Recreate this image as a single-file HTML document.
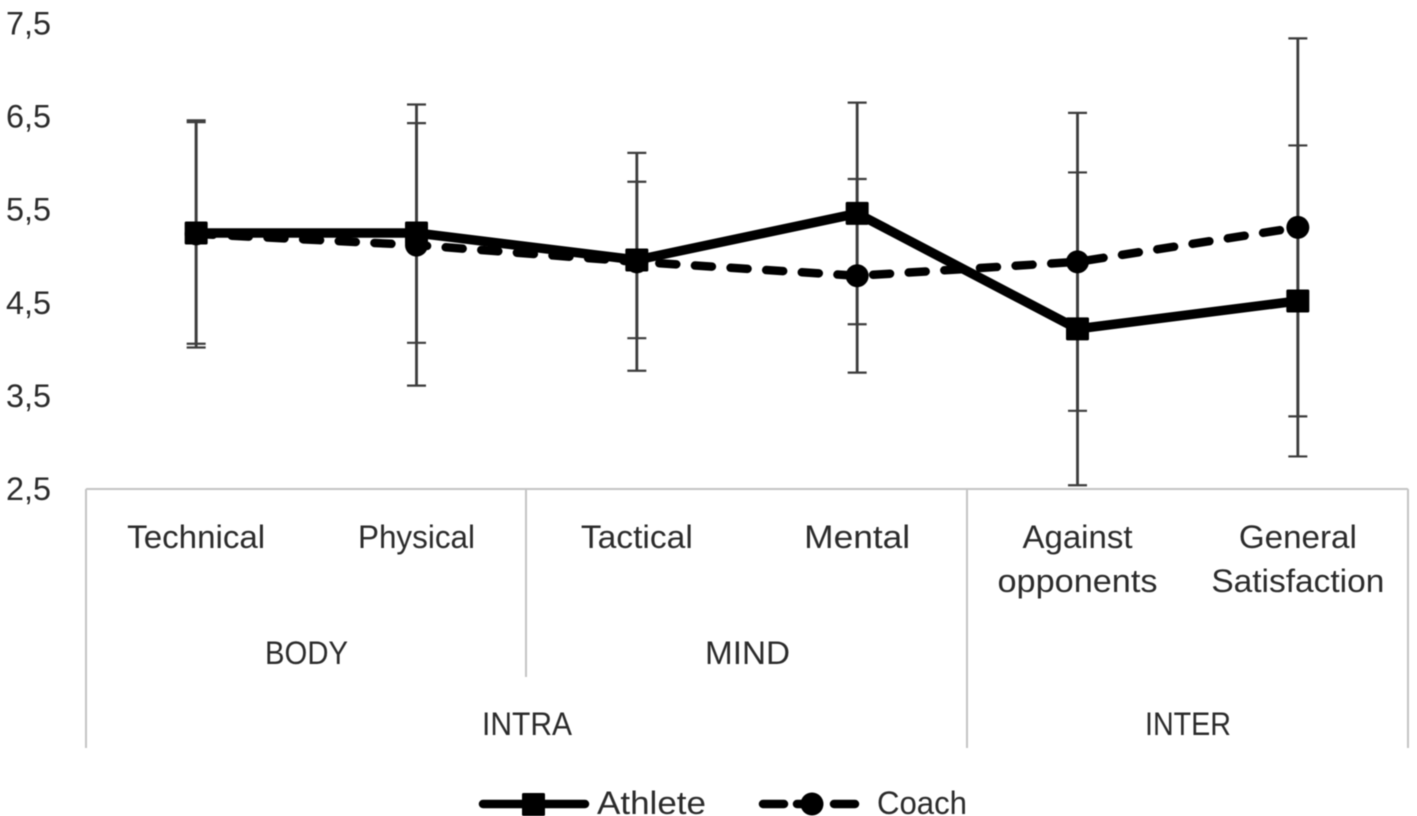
<!DOCTYPE html>
<html lang="en">
<head>
<meta charset="utf-8">
<title>Athlete and Coach ratings</title>
<style>
html,body{margin:0;padding:0;background:#fff;width:1417px;height:816px;overflow:hidden}
svg{display:block;filter:blur(.45px)}
text{font-family:"Liberation Sans",sans-serif;font-size:32.5px;fill:#2b2b2b}
</style>
</head>
<body>
<svg id="chart" xmlns="http://www.w3.org/2000/svg" width="1417" height="816" viewBox="0 0 1417 816">
  <g id="axis-frame" stroke="#c4c4c4" stroke-width="2" fill="none">
    <line x1="86" y1="489" x2="1408" y2="489"/>
    <line x1="86" y1="489" x2="86" y2="748"/>
    <line x1="526" y1="489" x2="526" y2="677"/>
    <line x1="967" y1="489" x2="967" y2="748"/>
    <line x1="1408" y1="489" x2="1408" y2="748"/>
  </g>
  <g id="y-ticks"></g>
  <g id="x-labels"></g>
  <g>
    <text x="265" y="664" textLength="83" lengthAdjust="spacingAndGlyphs">BODY</text>
    <text x="705" y="664" textLength="85" lengthAdjust="spacingAndGlyphs">MIND</text>
    <text x="482" y="735" textLength="90" lengthAdjust="spacingAndGlyphs">INTRA</text>
    <text x="1145" y="735" textLength="86" lengthAdjust="spacingAndGlyphs">INTER</text>
  </g>
  <g id="errors"></g>
  <g id="series"></g>
  <g>
    <g>
      <line x1="483" y1="804" x2="585" y2="804" stroke="#000" stroke-width="8.5" stroke-linecap="round"/>
      <rect x="522" y="793" width="23" height="23" rx="1.5" fill="#000"/>
      <text x="597" y="814" textLength="109" lengthAdjust="spacingAndGlyphs">Athlete</text>
    </g>
    <g>
      <line x1="763" y1="804" x2="784" y2="804" stroke="#000" stroke-width="8.5" stroke-linecap="round"/>
      <line x1="797" y1="804" x2="812" y2="804" stroke="#000" stroke-width="8.5" stroke-linecap="round"/>
      <line x1="834" y1="804" x2="855" y2="804" stroke="#000" stroke-width="8.5" stroke-linecap="round"/>
      <circle cx="812" cy="804" r="11.5" fill="#000"/>
      <text x="877" y="814" textLength="90" lengthAdjust="spacingAndGlyphs">Coach</text>
    </g>
  </g>
</svg>
<script>
const categories = [["Technical"], ["Physical"], ["Tactical"], ["Mental"], ["Against", "opponents"], ["General", "Satisfaction"]];
const tickValues = [7.5, 6.5, 5.5, 4.5, 3.5, 2.5];
const tickLabels = ["7,5", "6,5", "5,5", "4,5", "3,5", "2,5"];
const athleteMeans = [5.25, 5.25, 4.96, 5.46, 4.22, 4.52];
const coachMeans = [5.24, 5.12, 4.94, 4.79, 4.94, 5.31];
const athleteErrors = [1.19, 1.18, 0.84, 1.19, 1.68, 1.67];
const coachErrors = [1.22, 1.51, 1.17, 1.04, 1.60, 2.03];

const labelFit = { Technical: 138, Physical: 117, Tactical: 112, Mental: 106, Against: 110, opponents: 160, General: 118, Satisfaction: 173 };

const NS = "http://www.w3.org/2000/svg";
function xScale(i) { return 86 + (i + 0.5) * (1322 / 6); }
function yScale(v) { return 489 - (v - 2.5) * 93.1; }
function make(tag, parent, props) {
  const el = document.createElementNS(NS, tag);
  for (const k in props) el.setAttribute(k, props[k]);
  parent.appendChild(el);
  return el;
}

const yTicks = document.getElementById("y-ticks");
tickValues.forEach(function (v, i) {
  const t = make("text", yTicks, { x: 6, y: yScale(v) + 11, textLength: 45, lengthAdjust: "spacingAndGlyphs" });
  
  
  t.textContent = tickLabels[i];
});

const xLabels = document.getElementById("x-labels");
categories.forEach(function (lines, i) {
  lines.forEach(function (line, j) {
    const t = make("text", xLabels, { x: xScale(i) - labelFit[line] / 2, y: 548 + j * 44, textLength: labelFit[line], lengthAdjust: "spacingAndGlyphs" });
    
    
    t.textContent = line;
  });
});

const errorsGroup = document.getElementById("errors");
function drawErrors(means, errs, prefix) {
  means.forEach(function (m, i) {
    const x = xScale(i), top = yScale(m + errs[i]), bot = yScale(m - errs[i]);
    const g = make("g", errorsGroup, { stroke: "#3c3c3c", fill: "none" });
    
    
    make("line", g, { x1: x, x2: x, y1: top, y2: bot, "stroke-width": 2.8 });
    make("line", g, { x1: x - 9.5, x2: x + 9.5, y1: top, y2: top, "stroke-width": 2.2 });
    make("line", g, { x1: x - 9.5, x2: x + 9.5, y1: bot, y2: bot, "stroke-width": 2.2 });
  });
}
drawErrors(athleteMeans, athleteErrors, "athlete");
drawErrors(coachMeans, coachErrors, "coach");

const seriesGroup = document.getElementById("series");
function pointsOf(means) {
  return means.map(function (m, i) { return xScale(i) + "," + yScale(m); }).join(" ");
}

const coachLine = make("polyline", seriesGroup, { points: pointsOf(coachMeans), fill: "none", stroke: "#000", "stroke-width": 8.5, "stroke-linecap": "round", "stroke-linejoin": "round", "stroke-dasharray": "17 18.7" });


coachMeans.forEach(function (m, i) {
  const c = make("circle", seriesGroup, { cx: xScale(i), cy: yScale(m), r: 11.5, fill: "#000" });
  
  
});

const athleteLine = make("polyline", seriesGroup, { points: pointsOf(athleteMeans), fill: "none", stroke: "#000", "stroke-width": 9.5, "stroke-linejoin": "round" });


athleteMeans.forEach(function (m, i) {
  const r = make("rect", seriesGroup, { x: xScale(i) - 11.5, y: yScale(m) - 11.5, width: 23, height: 23, rx: 1.5, fill: "#000" });
  
  
});
</script>
</body>
</html>
